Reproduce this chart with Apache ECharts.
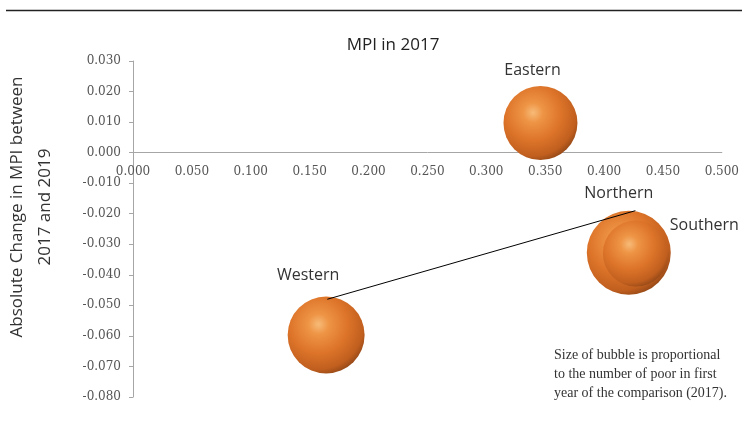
<!DOCTYPE html>
<html><head><meta charset="utf-8">
<script src="https://cdn.jsdelivr.net/npm/echarts@6/dist/echarts.min.js"></script>
<style>html,body{margin:0;padding:0;background:#fff}#c{width:742px;height:427px}</style>
</head><body><div id="c"></div>
<script>
var regions = ['Eastern', 'Northern', 'Southern', 'Western'];
var mpi2017 = [0.346, 0.421, 0.427, 0.164];
var mpiChange = [0.0097, -0.0328, -0.0330, -0.0597];
var poorCount = [548, 706, 436, 593];
var labelOffsets = [[-8, -3], [-10, -4], [-4, -28], [-18, -8]];
var labelPositions = ['top', 'top', 'right', 'top'];
var leaderFrom = [0.165, -0.048];
var leaderTo = [0.4266, -0.019];
var xTicks = {min: 0, max: 0.5, interval: 0.05};
var yTicks = {min: -0.08, max: 0.03, interval: 0.01};

var sphere = {
  type: 'radial', x: 0.4, y: 0.36, r: 0.75,
  colorStops: [
    {offset: 0, color: '#f7bb78'},
    {offset: 0.18, color: '#ee9445'},
    {offset: 0.5, color: '#dd7429'},
    {offset: 0.78, color: '#c15f1f'},
    {offset: 0.92, color: '#8f4516'},
    {offset: 1, color: '#5e2c0e'}
  ]
};

var data = regions.map(function (r, i) {
  return {
    name: r,
    value: [mpi2017[i], mpiChange[i], poorCount[i]],
    label: {position: labelPositions[i], offset: labelOffsets[i]}
  };
});

var chart = echarts.init(document.getElementById('c'));
var gridBottom = 30;
chart.setOption({
  animation: false,
  grid: {left: 133, right: 19, top: 61, bottom: gridBottom},
  xAxis: {
    type: 'value', min: xTicks.min, max: xTicks.max, interval: xTicks.interval,
    axisLine: {onZero: false, lineStyle: {color: '#a6a6a6', width: 1}},
    axisTick: {show: false},
    splitLine: {show: false},
    axisLabel: {
      formatter: function (v) { return v.toFixed(3); },
      fontFamily: 'DejaVu Serif', fontSize: 12, color: '#555', margin: 13
    }
  },
  yAxis: {
    type: 'value', min: yTicks.min, max: yTicks.max, interval: yTicks.interval,
    axisLine: {show: true, onZero: false, lineStyle: {color: '#a6a6a6', width: 1}},
    axisTick: {show: true, length: 4, inside: false, lineStyle: {color: '#a6a6a6'}},
    splitLine: {show: false},
    axisLabel: {
      formatter: function (v) { return v.toFixed(3); },
      fontFamily: 'DejaVu Serif', fontSize: 12, color: '#555', margin: 12
    }
  },
  graphic: [
    {type: 'line', shape: {x1: 6, y1: 10.5, x2: 742, y2: 10.5}, style: {stroke: '#222', lineWidth: 1.5}},
    {type: 'text', x: 393, y: 45, style: {text: 'MPI in 2017', font: '17px "Open Sans"', fill: '#222', textAlign: 'center', textVerticalAlign: 'middle'}},
    {type: 'text', x: 31, y: 207, rotation: Math.PI / 2,
      style: {text: 'Absolute Change in MPI between\n2017 and 2019', font: '17px "Open Sans"', fill: '#333', textAlign: 'center', textVerticalAlign: 'middle', lineHeight: 28}},
    {type: 'text', left: 554, top: 346,
      style: {text: 'Size of bubble is proportional\nto the number of poor in first\nyear of the comparison (2017).', font: '14px "Liberation Serif"', fill: '#333', lineHeight: 19}}
  ],
  series: [{
    type: 'scatter',
    data: data,
    symbolSize: function (v) { return Math.sqrt(v[2]) * 3.16; },
    itemStyle: {color: sphere, borderWidth: 0, opacity: 1},
    label: {show: true, formatter: '{b}', fontFamily: 'Open Sans', fontSize: 16, color: '#333', distance: 5},
    emphasis: {disabled: true},
    markLine: {
      silent: true, symbol: 'none', z: 10,
      label: {show: false},
      lineStyle: {color: '#000', width: 1, type: 'solid'},
      data: [[{coord: leaderFrom}, {coord: leaderTo}]]
    }
  }]
});
var zeroPx = chart.convertToPixel({yAxisIndex: 0}, 0);
var bottomPx = chart.getHeight() - gridBottom;
chart.setOption({xAxis: {offset: -(bottomPx - zeroPx)}});
</script></body></html>
